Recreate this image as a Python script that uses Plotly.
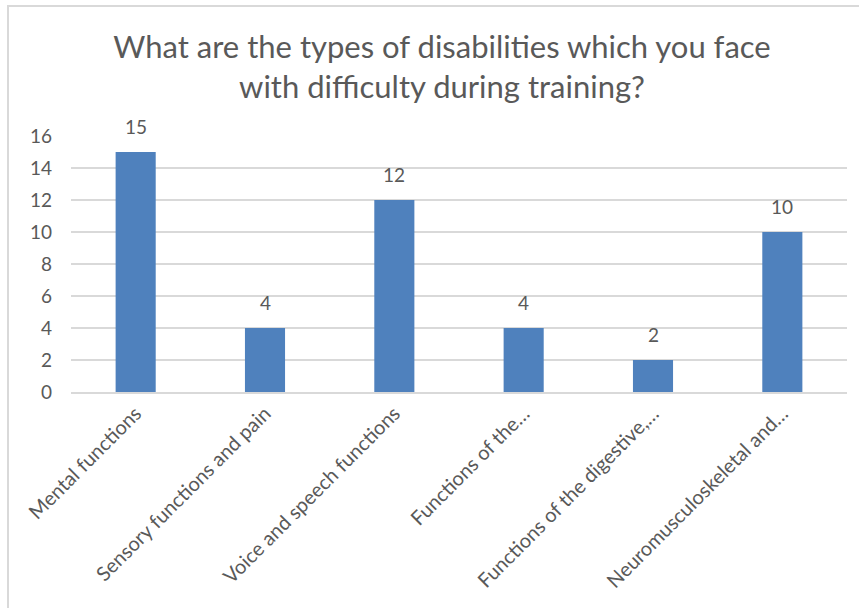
import plotly.graph_objects as go

categories = [
    "Mental functions",
    "Sensory functions and pain",
    "Voice and speech functions",
    "Functions of the…",
    "Functions of the digestive,…",
    "Neuromusculoskeletal and…",
]
values = [15, 4, 12, 4, 2, 10]
y_ticks = [0, 2, 4, 6, 8, 10, 12, 14, 16]

W, H = 859, 608
ml, mr, mt, mb = 71, 12, 136, 216
pw, ph = W - ml - mr, H - mt - mb

grey = "#595959"
font_family = "Lato, 'Open Sans', sans-serif"

fig = go.Figure(
    go.Bar(
        x=categories,
        y=values,
        marker=dict(color="#4F81BD", line=dict(width=0)),
        width=0.31,
        hoverinfo="x+y",
    )
)

for c, v in zip(categories, values):
    fig.add_annotation(
        x=c, y=v, text=str(v), showarrow=False,
        yanchor="bottom", yshift=12,
        font=dict(family=font_family, size=19, color=grey),
    )

def px_x(p):
    return (p - ml) / pw

def px_y(p):
    return (H - mb - p) / ph

fig.add_shape(
    type="rect", xref="paper", yref="paper",
    x0=px_x(8), x1=px_x(870), y0=px_y(620), y1=px_y(6),
    line=dict(color="#d9d9d9", width=2), fillcolor="rgba(0,0,0,0)", layer="below",
)

fig.update_layout(
    width=W, height=H,
    margin=dict(l=ml, r=mr, t=mt, b=mb, autoexpand=False),
    paper_bgcolor="white", plot_bgcolor="white",
    title=dict(
        text="What are the types of disabilities which you face<br>with difficulty during training?",
        x=442 / W, xanchor="center", xref="container",
        y=1 - 58 / H, yanchor="top", yref="container",
        font=dict(family=font_family, size=31, color=grey),
    ),
    xaxis=dict(
        tickangle=-45, automargin=False,
        tickfont=dict(family=font_family, size=20, color=grey),
        showline=True, linecolor="#d9d9d9", linewidth=2,
        ticks="", showgrid=False,
    ),
    yaxis=dict(
        range=[0, 16], tickvals=y_ticks, automargin=False,
        tickfont=dict(family=font_family, size=19, color=grey),
        showgrid=True, gridcolor="#d9d9d9", gridwidth=2,
        zeroline=False, showline=False, ticks="", ticklabelstandoff=18,
    ),
    showlegend=False,
)

fig.write_html(
    "out.html",
    config={"displayModeBar": False},
    post_script="document.body.style.margin='0';document.body.style.overflow='hidden';",
)
